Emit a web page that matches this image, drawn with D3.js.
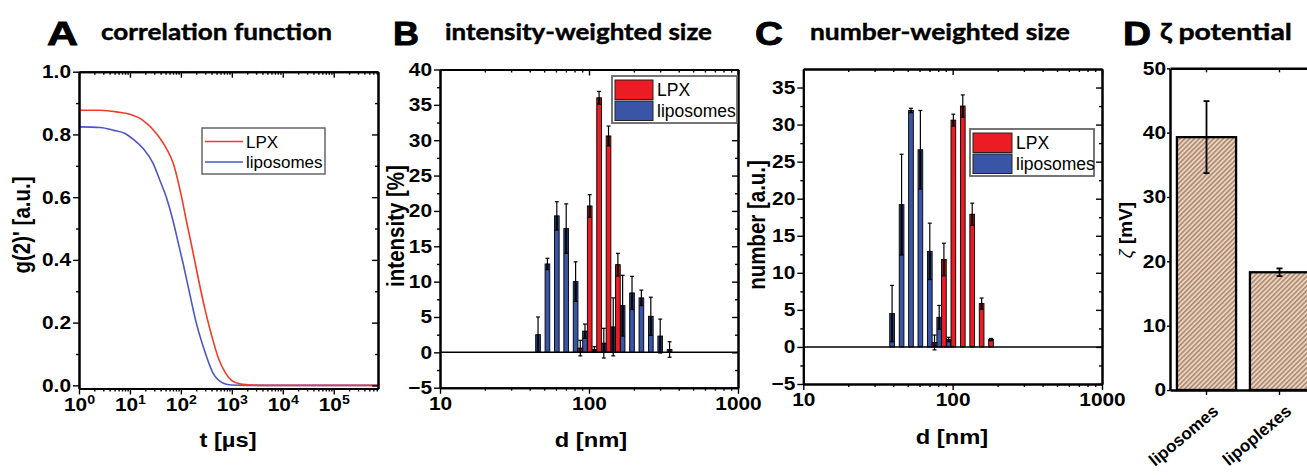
<!DOCTYPE html>
<html><head><meta charset="utf-8">
<script src="https://cdn.jsdelivr.net/npm/d3@7"></script>
<style>body{margin:0;background:#fff}svg{display:block}</style>
</head><body>
<svg width="1307" height="475"></svg>
<script>
// ---------------- data ----------------
// A: correlation function
const corrTimeLPX = [1, 2.6, 5.5, 10, 18, 33, 52, 71, 103, 130, 170, 220, 300, 400, 550, 750, 1000, 1500, 2500, 5000, 1e5, 7.4e5];
const corrLPX     = [0.877,0.877,0.872,0.864,0.845,0.803,0.755,0.707,0.601,0.52,0.43,0.34,0.24,0.16,0.085,0.04,0.015,0.004,0.001,0,0,0];
const corrTimeLipo = [1, 2.6, 4.8, 8, 11.7, 18.2, 28.7, 38.6, 52, 71, 90, 110, 150, 200, 275, 430, 680, 1000, 2000, 1e5, 7.4e5];
const corrLipo     = [0.824,0.822,0.813,0.803,0.784,0.755,0.707,0.654,0.599,0.521,0.45,0.39,0.29,0.2,0.123,0.038,0.007,0.001,0,0,0];
const corrXTicks = [1, 10, 100, 1000, 1e4, 1e5];
const corrYTicks = [0, 0.2, 0.4, 0.6, 0.8, 1.0];

// B: intensity-weighted size
const intLipoD = [45.5, 52.6, 60.8, 70.3, 81.3, 94.0, 108.7, 125.7, 145.4, 168.1, 194.4, 224.7, 259.9, 300.6, 347.5];
const intLipoV = [2.5, 12.5, 19.3, 17.5, 10.0, 3.0, 0.4, 1.3, 3.6, 6.6, 8.4, 7.7, 5.1, 2.3, 0.4];
const intLipoE = [2.5, 0.8, 2.0, 3.5, 2.8, 1.0, 0.4, 2.1, 4.1, 4.3, 2.35, 1.1, 2.7, 2.4, 1.1];
const intLPXD = [87.4, 101.1, 116.9, 135.2, 156.3];
const intLPXV = [0.6, 20.7, 36.0, 30.6, 12.4];
const intLPXE = [1.1, 1.6, 0.9, 1.4, 1.6];
const intYTicks = [-5, 0, 5, 10, 15, 20, 25, 30, 35, 40];

// C: number-weighted size
const numLipoD = [39.3, 45.5, 52.6, 60.8, 70.3, 81.3, 94.0];
const numLipoV = [4.5, 19.2, 31.9, 26.6, 12.9, 4.0, 1.0];
const numLipoE = [3.8, 6.8, 0.3, 5.3, 3.8, 1.6, 0.3];
const numLPXD = [75.6, 87.4, 101.1, 116.9, 135.2, 156.3, 180.7];
const numLPXV = [0.6, 11.8, 30.6, 32.5, 17.9, 5.85, 1.0];
const numLPXE = [1.0, 2.2, 0.8, 1.5, 1.5, 0.75, 0.15];
const numYTicks = [-5, 0, 5, 10, 15, 20, 25, 30, 35];
const sizeXTicks = [10, 100, 1000];

// D: zeta potential
const zetaCats = ["liposomes", "lipoplexes"];
const zetaVals = [39.3, 18.3];
const zetaErr  = [5.6, 0.6];
const zetaYTicks = [0, 10, 20, 30, 40, 50];

const seriesNames = ["LPX", "liposomes"];

// ---------------- style ----------------
const SX = 1.13;
const TICK_FS = 18.5;
const TF = "'Liberation Sans', Arial, Helvetica, sans-serif";
const TITLEF = "Lato, 'Open Sans', 'DejaVu Sans', sans-serif";
const RED = "#ec1c24", BLUE = "#3a54a6";
const LRED = "#f23c28", LBLUE = "#4b57c6";

const svg = d3.select("svg");
const defs = svg.append("defs");
const pat = defs.append("pattern").attr("id","hatch").attr("patternUnits","userSpaceOnUse")
  .attr("width",3.4).attr("height",3.4).attr("patternTransform","rotate(45)");
pat.append("rect").attr("width",3.4).attr("height",3.4).attr("fill","#ecd3bf");
pat.append("line").attr("x1",0.8).attr("x2",0.8).attr("y1",0).attr("y2",3.4)
  .attr("stroke","#9c7a62").attr("stroke-width",1.3);

function styleAxis(g, lw) {
  g.attr("font-family", null).attr("font-size", null);
  g.select(".domain").attr("stroke","#000").attr("stroke-width",lw||2);
  g.selectAll(".tick line").attr("stroke","#000").attr("stroke-width",1.4);
  g.selectAll(".tick text").attr("font-family",TF).attr("font-weight","bold")
    .attr("font-size",TICK_FS).attr("fill","#000")
    .each(function(){
      const t = d3.select(this);
      const x = +t.attr("x") || 0;
      t.attr("x", x / SX).attr("transform", `scale(${SX},1)`);
    });
  return g;
}
function logMinors(lo, hi) {
  const out = [];
  for (let e = Math.floor(Math.log10(lo)); e <= Math.ceil(Math.log10(hi)); e++)
    for (let m = 2; m <= 9; m++) { const v = m * Math.pow(10, e); if (v > lo && v < hi) out.push(v); }
  return out;
}
function linMinors(ticks) {
  const out = [];
  for (let i = 0; i < ticks.length - 1; i++) out.push((ticks[i] + ticks[i+1]) / 2);
  return out;
}
function frame(x, y, xMajor, xMinor, yMajor, yMinor, xFmt, yFmt) {
  const [x0, x1] = x.range(), [yb, yt] = y.range();
  const add = () => svg.append("g");
  styleAxis(add().attr("transform",`translate(0,${yb})`).call(d3.axisBottom(x).tickValues(xMinor).tickSize(3).tickSizeOuter(0).tickFormat("")));
  styleAxis(add().attr("transform",`translate(0,${yt})`).call(d3.axisTop(x).tickValues(xMinor).tickSize(-3).tickSizeOuter(0).tickFormat("")));
  styleAxis(add().attr("transform",`translate(${x0},0)`).call(d3.axisLeft(y).tickValues(yMinor).tickSize(3).tickSizeOuter(0).tickFormat("")));
  styleAxis(add().attr("transform",`translate(${x1},0)`).call(d3.axisRight(y).tickValues(yMinor).tickSize(-3).tickSizeOuter(0).tickFormat("")));
  const gb = styleAxis(add().attr("transform",`translate(0,${yb})`).call(d3.axisBottom(x).tickValues(xMajor).tickSize(6).tickSizeOuter(0).tickPadding(3).tickFormat(xFmt)));
  styleAxis(add().attr("transform",`translate(0,${yt})`).call(d3.axisTop(x).tickValues(xMajor).tickSize(-6).tickSizeOuter(0).tickFormat("")));
  styleAxis(add().attr("transform",`translate(${x0},0)`).call(d3.axisLeft(y).tickValues(yMajor).tickSize(6).tickSizeOuter(0).tickPadding(2).tickFormat(yFmt)));
  styleAxis(add().attr("transform",`translate(${x1},0)`).call(d3.axisRight(y).tickValues(yMajor).tickSize(-6).tickSizeOuter(0).tickFormat("")));
  return gb;
}
function fitText(str, x, base, width, size, family, weight, sw) {
  const t = svg.append("text").attr("font-family",family).attr("font-weight",weight)
    .attr("font-size",size).attr("fill","#000").attr("stroke","#000").attr("stroke-width",sw || 0).text(str);
  const w = t.node().getComputedTextLength();
  t.attr("transform",`translate(${x},${base}) scale(${width / w},1)`);
  return t;
}
function axisTitle(str, x, y, size, rotate) {
  return svg.append("text").attr("font-family",TF).attr("font-weight","bold").attr("font-size",size)
    .attr("text-anchor","middle").attr("fill","#000")
    .attr("transform", rotate ? `translate(${x},${y}) scale(${SX},1) rotate(-90)` : `translate(${x},${y}) scale(${SX},1)`)
    .text(str);
}
function title(letter, lx, lw, txt, tx, tw) {
  fitText(letter, lx, 45, lw, 33, TF, "bold", 0.9);
  fitText(txt, tx, 39.5, tw, 23.5, TITLEF, "bold", 0.45);
}

// ---------------- Panel A ----------------
const xA = d3.scaleLog().domain([1, 7.4e5]).range([79, 378]);
const yA = d3.scaleLinear().domain([-0.01, 1.0]).range([388.5, 71.7]);
const lineA = d3.line().x(d => xA(d[0])).y(d => yA(d[1])).curve(d3.curveMonotoneX);
svg.append("path").datum(d3.zip(corrTimeLipo, corrLipo)).attr("d", lineA)
  .attr("fill","none").attr("stroke",LBLUE).attr("stroke-width",1.6);
svg.append("path").datum(d3.zip(corrTimeLPX, corrLPX)).attr("d", lineA)
  .attr("fill","none").attr("stroke",LRED).attr("stroke-width",1.6);
const gbA = frame(xA, yA, corrXTicks, logMinors(1, 7.4e5), corrYTicks, linMinors(corrYTicks),
  () => "", d3.format(".1f"));
gbA.selectAll(".tick text").each(function(d){
  const t = d3.select(this);
  t.append("tspan").text("10");
  t.append("tspan").attr("dy","-7").attr("font-size",12.5).text(Math.round(Math.log10(d)));
});
axisTitle("t [µs]", 228, 447, 21, false);
axisTitle("g(2)' [a.u.]", 30, 225, 20.5, true);
// legend A
const lgA = svg.append("g");
lgA.append("rect").attr("x",202).attr("y",128).attr("width",123).attr("height",46)
  .attr("fill","#fff").attr("stroke","#666").attr("stroke-width",1.5);
[LRED, LBLUE].forEach((c, i) => {
  lgA.append("line").attr("x1",205).attr("x2",243).attr("y1",141.5 + i*20.5).attr("y2",141.5 + i*20.5)
    .attr("stroke",c).attr("stroke-width",1.6);
  lgA.append("text").attr("x",246).attr("y",147.5 + i*20.5).attr("font-family",TF).attr("font-size",17)
    .attr("fill","#000").text(seriesNames[i]);
});
title("A", 47, 31, "correlation function", 101, 231);

// ---------------- bar helpers ----------------
function barSeries(x, y, D, V, E, color, bw) {
  const data = D.map((d, i) => ({d, v: V[i], e: E[i]}));
  const g = svg.append("g");
  g.selectAll("rect").data(data).join("rect")
    .attr("x", o => x(o.d) - bw/2).attr("width", bw)
    .attr("y", o => y(Math.max(o.v, 0))).attr("height", o => Math.abs(y(0) - y(o.v)))
    .attr("fill", color).attr("stroke","#000").attr("stroke-width",0.9);
  return data;
}
function errBars(x, y, data, bw) {
  const g = svg.append("g");
  data.forEach(o => {
    const cx = x(o.d), lo = o.v - o.e, hi = o.v + o.e;
    g.append("rect").attr("x", cx - bw*0.3).attr("width", bw*0.6)
      .attr("y", y(o.v)).attr("height", Math.max(0, y(Math.max(lo,0)) - y(o.v)))
      .attr("fill","#000").attr("opacity",0.72);
    g.append("line").attr("x1",cx).attr("x2",cx).attr("y1",y(lo)).attr("y2",y(hi))
      .attr("stroke","#000").attr("stroke-width",1.2);
    [lo, hi].forEach(v => g.append("line").attr("x1",cx - bw*0.42).attr("x2",cx + bw*0.42)
      .attr("y1",y(v)).attr("y2",y(v)).attr("stroke","#000").attr("stroke-width",1.2));
  });
}
function sizePanel(x, y, lipo, lpx, yTicks, legend) {
  const bw = 0.5 * (x(intLipoD[1]) - x(intLipoD[0]));
  const dB = barSeries(x, y, lipo[0], lipo[1], lipo[2], BLUE, bw);
  const dR = barSeries(x, y, lpx[0], lpx[1], lpx[2], RED, bw);
  errBars(x, y, dB, bw);
  errBars(x, y, dR, bw);
  svg.append("line").attr("x1",x.range()[0]).attr("x2",x.range()[1]).attr("y1",y(0)).attr("y2",y(0))
    .attr("stroke","#000").attr("stroke-width",1.5);
  frame(x, y, sizeXTicks, logMinors(10, 1000), yTicks, linMinors(yTicks), d3.format("d"), d3.format("d"));
  const [lx, ly, lw, lh, sw] = legend;
  const g = svg.append("g");
  g.append("rect").attr("x",lx).attr("y",ly).attr("width",lw).attr("height",lh)
    .attr("fill","#fff").attr("stroke","#666").attr("stroke-width",1.8);
  [RED, BLUE].forEach((c, i) => {
    g.append("rect").attr("x",lx+3).attr("y",ly+4 + i*21).attr("width",sw).attr("height",19.5)
      .attr("fill",c).attr("stroke","#222").attr("stroke-width",1);
    g.append("text").attr("x",lx+sw+7).attr("y",ly+20 + i*21).attr("font-family",TF).attr("font-size",17.5)
      .attr("fill","#000").text(seriesNames[i]);
  });
}

// ---------------- Panel B ----------------
const xB = d3.scaleLog().domain([10, 1000]).range([440, 738]);
const yB = d3.scaleLinear().domain([-5, 40]).range([387.7, 69.5]);
sizePanel(xB, yB, [intLipoD, intLipoV, intLipoE], [intLPXD, intLPXV, intLPXE], intYTicks, [612, 76, 125, 47, 38]);
axisTitle("d [nm]", 591, 447, 21, false);
axisTitle("intensity [%]", 404, 226, 20.5, true);
title("B", 393, 26, "intensity-weighted size", 445, 267);

// ---------------- Panel C ----------------
const xC = d3.scaleLog().domain([10, 1000]).range([803.3, 1102]);
const yC = d3.scaleLinear().domain([-5, 37.5]).range([384, 69]);
sizePanel(xC, yC, [numLipoD, numLipoV, numLipoE], [numLPXD, numLPXV, numLPXE], numYTicks, [970, 129, 124, 47, 39]);
axisTitle("d [nm]", 952, 444, 21, false);
axisTitle("number [a.u.]", 765, 225, 20.5, true);
title("C", 755, 28, "number-weighted size", 810, 260);

// ---------------- Panel D ----------------
const xD = d3.scaleBand().domain(zetaCats).range([1170, 1316]).paddingInner(0.19).paddingOuter(0.095);
const yD = d3.scaleLinear().domain([0, 50]).range([390, 68.3]);
svg.append("g").selectAll("rect").data(zetaCats).join("rect")
  .attr("x", c => xD(c)).attr("width", xD.bandwidth())
  .attr("y", (c, i) => yD(zetaVals[i])).attr("height", (c, i) => yD(0) - yD(zetaVals[i]))
  .attr("fill","url(#hatch)").attr("stroke","#000").attr("stroke-width",2.3);
const gE = svg.append("g");
zetaCats.forEach((c, i) => {
  const cx = xD(c) + xD.bandwidth()/2, lo = zetaVals[i] - zetaErr[i], hi = zetaVals[i] + zetaErr[i];
  gE.append("line").attr("x1",cx).attr("x2",cx).attr("y1",yD(lo)).attr("y2",yD(hi)).attr("stroke","#000").attr("stroke-width",1.8);
  [lo, hi].forEach(v => gE.append("line").attr("x1",cx-3).attr("x2",cx+3).attr("y1",yD(v)).attr("y2",yD(v))
    .attr("stroke","#000").attr("stroke-width",1.8));
});
styleAxis(svg.append("g").attr("transform",`translate(0,${yD.range()[0]})`)
  .call(d3.axisBottom(xD).tickSize(5).tickSizeOuter(0).tickFormat("")), 2.5);
styleAxis(svg.append("g").attr("transform",`translate(0,${yD.range()[1]})`)
  .call(d3.axisTop(xD).tickSize(-4).tickSizeOuter(0).tickFormat("")), 2.5);
styleAxis(svg.append("g").attr("transform",`translate(${xD.range()[0]},0)`)
  .call(d3.axisLeft(yD).tickValues(zetaYTicks).tickSize(3).tickSizeOuter(0).tickPadding(1).tickFormat(d3.format("d"))), 2.5);
zetaCats.forEach(c => {
  const cx = xD(c) + xD.bandwidth()/2;
  svg.append("text").attr("font-family",TF).attr("font-weight","bold").attr("font-size",17)
    .attr("text-anchor","end").attr("fill","#000")
    .attr("transform",`translate(${cx + 13},${413}) rotate(-40)`).text(c);
});
const zl = svg.append("text").attr("font-family",TF).attr("font-weight","bold").attr("font-size",19)
  .attr("text-anchor","middle").attr("fill","#000")
  .attr("transform","translate(1132,230) rotate(-90)");
zl.append("tspan").attr("font-weight","normal").attr("font-style","italic").text("ζ");
zl.append("tspan").text(" [mV]");
title("D", 1123, 28, "ζ potential", 1160, 132);
</script>
</body></html>
